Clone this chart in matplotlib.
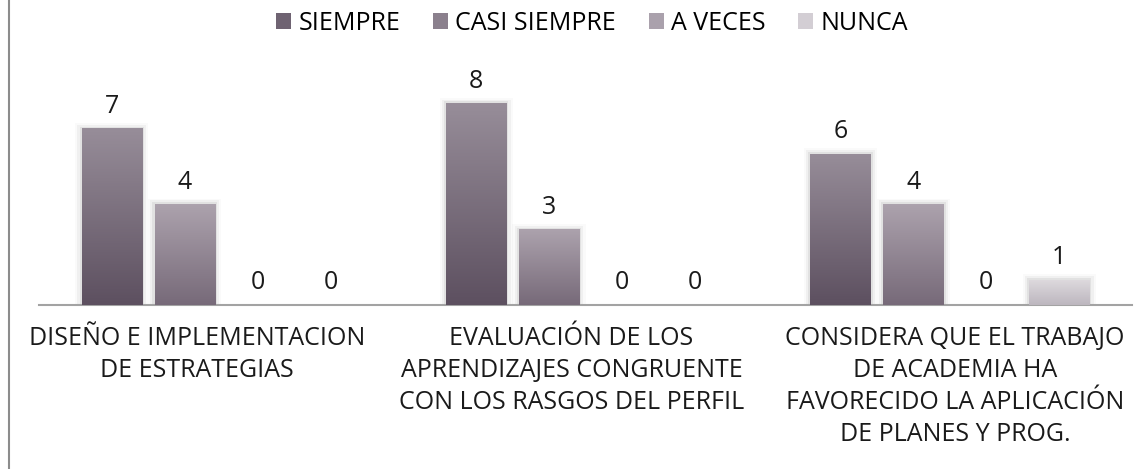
import matplotlib
matplotlib.use("Agg")
import matplotlib.pyplot as plt
import matplotlib.colors as mcolors
import matplotlib.transforms as mtrans
from matplotlib.patches import Patch
from matplotlib.lines import Line2D
import numpy as np

# data
categories = [
    "DISEÑO E IMPLEMENTACION\nDE ESTRATEGIAS",
    "EVALUACIÓN DE LOS\nAPRENDIZAJES CONGRUENTE\nCON LOS RASGOS DEL PERFIL",
    "CONSIDERA QUE EL TRABAJO\nDE ACADEMIA HA\nFAVORECIDO LA APLICACIÓN\nDE PLANES Y PROG.",
]
series = ["SIEMPRE", "CASI SIEMPRE", "A VECES", "NUNCA"]
siempre = [7, 8, 6]
casi_siempre = [4, 3, 4]
a_veces = [0, 0, 0]
nunca = [0, 0, 1]

# gradient colours (top, bottom) per series
grad = [
    ("#978d99", "#5d5060"),
    ("#aca2ad", "#776a79"),
    ("#c2bbc4", "#9b919d"),
    ("#dedade", "#bdb7bf"),
]
legend_cols = ["#6f6372", "#8b808d", "#aaa1ac", "#d3ced4"]

plt.rcParams['font.family'] = ['Open Sans', 'DejaVu Sans']
FS = 18

fig = plt.figure(figsize=(11.46, 4.69), dpi=100)
ax = fig.add_axes([39 / 1146, (469 - 305) / 469, (1132 - 39) / 1146, 227 / 469])

x = np.arange(len(categories))
width = 0.165
step = 0.2
values = [siempre, casi_siempre, a_veces, nunca]

for i, (name, vals) in enumerate(zip(series, values)):
    pos = x + (i - 1.5) * step
    bars = ax.bar(pos, vals, width, color=legend_cols[i], zorder=2)
    cmap = mcolors.LinearSegmentedColormap.from_list("g%d" % i, [grad[i][1], grad[i][0]])
    for b, v in zip(bars, vals):
        if v <= 0:
            continue
        x0, y0 = b.get_x(), b.get_y()
        w, h = b.get_width(), b.get_height()
        # soft shadow
        for k, a in enumerate([0.06, 0.04, 0.02]):
            d = 0.006 * (k + 1)
            ax.add_patch(plt.Rectangle((x0 - d, y0), w + 2 * d, h + d * 12,
                                       color="#000000", alpha=a, lw=0, zorder=1))
        img = ax.imshow(np.linspace(0, 1, 100).reshape(-1, 1), cmap=cmap,
                        extent=[x0, x0 + w, y0, y0 + h], origin="lower",
                        aspect="auto", zorder=3)
        img.set_clip_path(b)
    for p, v in zip(pos, vals):
        ax.text(p, v + 0.38, str(v), ha="center", va="bottom",
                fontsize=FS, color="#1a1a1a", zorder=4)

ax.set_xlim(-0.5, 2.5)
ax.set_ylim(0, 9)
ax.set_xticks(x)
ax.set_xticklabels(categories, fontsize=FS, color="#1a1a1a", linespacing=1.38)
ax.tick_params(axis="x", length=0, pad=15)
# label centring in the original is a little off the category centre
for lab, dx in zip(ax.get_xticklabels(), [-24, -14, 5]):
    lab.set_transform(lab.get_transform() + mtrans.ScaledTranslation(dx / 100, 0, fig.dpi_scale_trans))
ax.set_yticks([])
for s in ["top", "right", "left"]:
    ax.spines[s].set_visible(False)
ax.spines["bottom"].set_color("#a3a3a3")
ax.spines["bottom"].set_linewidth(1.5)
ax.patch.set_alpha(0)

# left border of the chart
fig.add_artist(Line2D([9 / 1146, 9 / 1146], [0, 1], color="#8c8c8c", lw=1.5))

handles = [Patch(facecolor=c, edgecolor="none") for c in legend_cols]
fig.legend(handles, series, loc="upper center", bbox_to_anchor=(592 / 1146, 1.025),
           ncol=4, frameon=False, fontsize=FS, handlelength=0.6, handleheight=0.6,
           handletextpad=0.3, columnspacing=1.3)

fig.savefig("out.png", dpi=100)
